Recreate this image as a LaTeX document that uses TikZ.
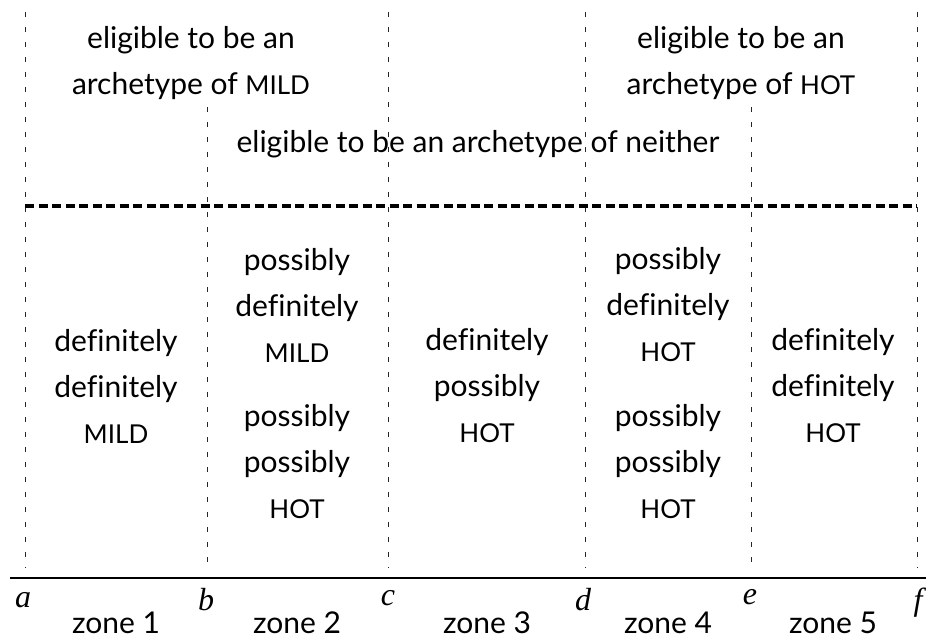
\documentclass[tikz,border=0pt]{standalone}
\usepackage{fontspec}
\setmainfont{Lato}[Ligatures=NoCommon]
\newfontfamily\lserif{Liberation Serif}
\newcommand{\mysc}[1]{{\fontsize{26}{46}\selectfont #1}}
\begin{document}
\begin{tikzpicture}[x=1pt,y=-1pt,
  vline/.style={draw=black!85, line width=0.9pt, dash pattern=on 5pt off 10pt},
  midline/.style={draw=black, line width=3.5pt, dash pattern=on 9pt off 4.5pt},
  axis/.style={draw=black, line width=2.2pt},
  txt/.style={align=center, inner sep=0pt, font=\fontsize{30}{46}\selectfont},
  zlbl/.style={inner sep=0pt, font=\fontsize{30}{36}\selectfont},
  plbl/.style={inner sep=0pt, font=\lserif\itshape\fontsize{32}{36}\selectfont}
]
\useasboundingbox (0,0) rectangle (926,640);

% vertical dashed lines
\coordinate (aT) at (25,12);   \coordinate (aB) at (25,568);
\coordinate (bT) at (207,107); \coordinate (bB) at (207,568);
\coordinate (cT) at (388,12);  \coordinate (cB) at (388,568);
\coordinate (dT) at (585,12);  \coordinate (dB) at (585,568);
\coordinate (eT) at (751,107); \coordinate (eB) at (751,568);
\coordinate (fT) at (917,12);  \coordinate (fB) at (917,568);
\foreach \p in {a,b,c,d,e,f} \draw[vline] (\p T) -- (\p B);

% thick dashed separator
\coordinate (mL) at (25,206); \coordinate (mR) at (917,206);
\draw[midline] (mL) -- (mR);

% axis
\coordinate (xL) at (10,578); \coordinate (xR) at (926,578);
\draw[axis] (xL) -- (xR);

% top texts
\node[txt] (tmild) at (191,63) {eligible to be an\\archetype of \mysc{MILD}};
\node[txt] (thot) at (741,63) {eligible to be an\\archetype of \mysc{HOT}};
\node[txt] (tnei) at (478,144) {eligible to be an archetype of neither};

% lower texts
\node[txt] (z1) at (116,386) {definitely\\definitely\\\mysc{MILD}};
\node[txt] (z2a) at (297,305) {possibly\\definitely\\\mysc{MILD}};
\node[txt] (z2b) at (297,462) {possibly\\possibly\\\mysc{HOT}};
\node[txt] (z3) at (487,386) {definitely\\possibly\\\mysc{HOT}};
\node[txt] (z4a) at (668,305) {possibly\\definitely\\\mysc{HOT}};
\node[txt] (z4b) at (668,462) {possibly\\possibly\\\mysc{HOT}};
\node[txt] (z5) at (833,386) {definitely\\definitely\\\mysc{HOT}};

% point labels
\node[plbl] (la) at (23,600) {a};
\node[plbl] (lb) at (206,600) {b};
\node[plbl] (lc) at (388,598) {c};
\node[plbl] (ld) at (583,600) {d};
\node[plbl] (le) at (750,597) {e};
\node[plbl] (lf) at (918,603) {f};

% zone labels
\node[zlbl] (zl1) at (116,623) {zone 1};
\node[zlbl] (zl2) at (297,623) {zone 2};
\node[zlbl] (zl3) at (487,623) {zone 3};
\node[zlbl] (zl4) at (668,623) {zone 4};
\node[zlbl] (zl5) at (833,623) {zone 5};
\end{tikzpicture}
\end{document}
